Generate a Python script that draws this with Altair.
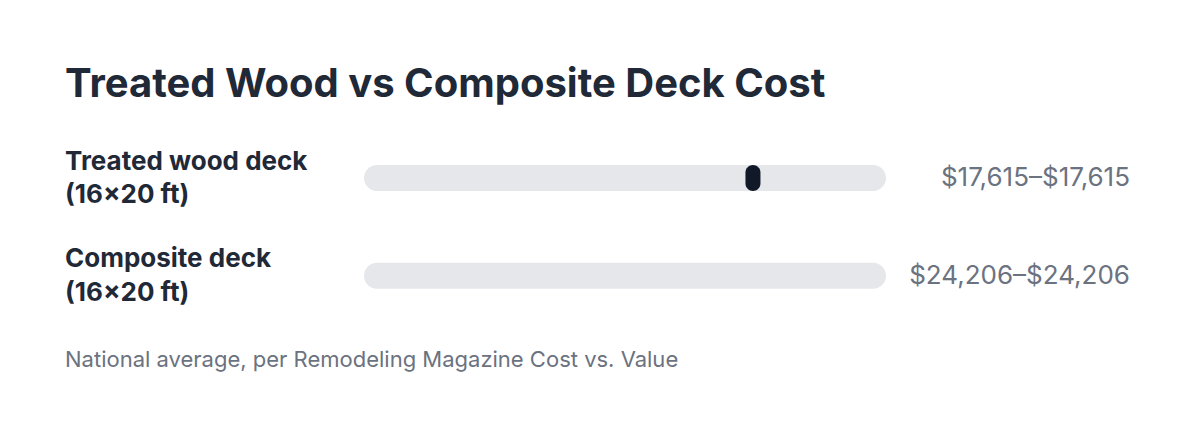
import altair as alt
import pandas as pd

# ---- data ----
title_text = "Treated Wood vs Composite Deck Cost"
footnote_text = "National average, per Remodeling Magazine Cost vs. Value"
rows = ["Treated wood deck\n(16x20 ft)", "Composite deck\n(16x20 ft)"]
low = [17615, 24206]
high = [17615, 24206]
track_max = 23640  # visible end of the track scale

df = pd.DataFrame({
    "row": rows,
    "low": low,
    "high": high,
    "track_start": [0, 0],
    "track_end": [track_max, track_max],
})
df["value_label"] = [f"${a:,}\u2013${b:,}" for a, b in zip(low, high)]

FONT = "Inter"
DARK = "#1f2937"
GRAY = "#6b7280"

x_scale = alt.Scale(domain=[0, track_max], range=[356, 878], nice=False, zero=False)
y_scale = alt.Scale(type="point", domain=rows, range=[170, 267.7], padding=0)

base = alt.Chart(df).encode(
    y=alt.Y("row:N", scale=y_scale, axis=None, sort=rows),
)

track = base.mark_bar(size=26, cornerRadius=13, color="#e5e7eb").encode(
    x=alt.X("track_start:Q", scale=x_scale, axis=None),
    x2="track_end:Q",
)

marker = base.transform_filter(
    alt.datum.high <= alt.datum.track_end
).mark_tick(thickness=15, size=26, cornerRadius=7.5, color="#111827", opacity=1).encode(
    x=alt.X("high:Q", scale=x_scale, axis=None),
)

row_labels = base.mark_text(
    align="left", baseline="alphabetic", font=FONT, fontSize=26, fontWeight="bold",
    color=DARK, lineBreak="\n", lineHeight=33.5, dy=-8.5,
).encode(x=alt.value(57), text="row:N")

value_labels = base.mark_text(
    align="right", baseline="alphabetic", font=FONT, fontSize=26,
    color=GRAY, dy=8.2,
).encode(x=alt.value(1122), text="value_label:N")

title = alt.Chart(pd.DataFrame({"t": [title_text]})).mark_text(
    align="left", baseline="alphabetic", font=FONT, fontSize=40, fontWeight="bold", color=DARK,
).encode(x=alt.value(57), y=alt.value(88.7), text="t:N")

footnote = alt.Chart(pd.DataFrame({"t": [footnote_text]})).mark_text(
    align="left", baseline="alphabetic", font=FONT, fontSize=22, color=GRAY,
).encode(x=alt.value(57), y=alt.value(359.3), text="t:N")

chart = alt.layer(track, marker, row_labels, value_labels, title, footnote).properties(
    width=1184, height=415, padding=0, autosize="none", background="white",
).configure_view(stroke=None)

chart.save("out.html", embed_options={"renderer": "svg", "actions": False})
